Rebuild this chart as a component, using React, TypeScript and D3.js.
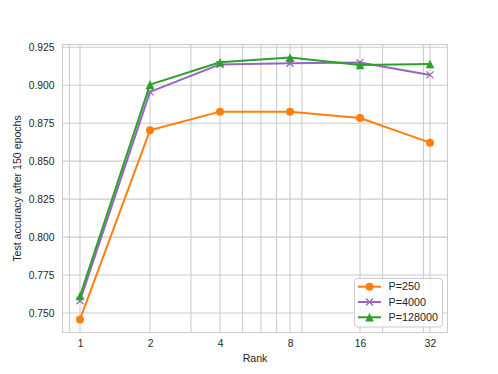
import React, { useEffect, useRef } from "react";
import * as d3 from "d3";

// ranks on a log2 axis
const ranks = [1, 2, 4, 8, 16, 32];
const accP250 = [0.7458, 0.8703, 0.8826, 0.8825, 0.8784, 0.8622];
const accP4000 = [0.7581, 0.8956, 0.9137, 0.9145, 0.9149, 0.9068];
const accP128000 = [0.7612, 0.9004, 0.9151, 0.9182, 0.9133, 0.914];
const yTicks = [0.75, 0.775, 0.8, 0.825, 0.85, 0.875, 0.9, 0.925];
// minor log gridlines matplotlib draws (base 10 subs)
const minorGrid = [0.9, 3, 5, 6, 7, 9, 20, 30];

const seriesList = [
  { name: "P=250", values: accP250, color: "#ff7f0e", marker: "circle" },
  { name: "P=4000", values: accP4000, color: "#9467bd", marker: "x" },
  { name: "P=128000", values: accP128000, color: "#2ca02c", marker: "triangle" },
];

const W = 498;
const H = 374;
const margin = { top: 44.5, right: 50.5, bottom: 41.5, left: 62.5 };

const App = () => {
  const ref = useRef<SVGSVGElement>(null);

  useEffect(() => {
    const svg = d3.select(ref.current);
    svg.selectAll("*").remove();

    const font = "'Liberation Sans', Arial, sans-serif";
    const x = d3
      .scaleLog()
      .base(2)
      .domain([Math.pow(2, -0.25), Math.pow(2, 5.25)])
      .range([margin.left, W - margin.right]);
    const allVals = seriesList.flatMap((s) => s.values);
    const lo = d3.min(allVals) as number;
    const hi = d3.max(allVals) as number;
    const pad = (hi - lo) * 0.05;
    const y = d3
      .scaleLinear()
      .domain([lo - pad, hi + pad])
      .range([H - margin.bottom, margin.top]);

    const grid = svg.append("g").attr("stroke", "#cccccc").attr("stroke-width", 1.1);
    [...ranks, ...minorGrid].forEach((v) => {
      grid
        .append("line")
        .attr("x1", x(v))
        .attr("x2", x(v))
        .attr("y1", margin.top)
        .attr("y2", H - margin.bottom);
    });
    yTicks.forEach((v) => {
      grid
        .append("line")
        .attr("x1", margin.left)
        .attr("x2", W - margin.right)
        .attr("y1", y(v))
        .attr("y2", y(v));
    });

    svg
      .append("rect")
      .attr("x", margin.left)
      .attr("y", margin.top)
      .attr("width", W - margin.left - margin.right)
      .attr("height", H - margin.top - margin.bottom)
      .attr("fill", "none")
      .attr("stroke", "#cccccc")
      .attr("stroke-width", 1.1);

    // tick labels
    const xAxis = d3
      .axisBottom(x)
      .tickValues(ranks)
      .tickFormat((d) => String(d))
      .tickSize(0)
      .tickPadding(7);
    const gx = svg
      .append("g")
      .attr("transform", `translate(0,${H - margin.bottom})`)
      .call(xAxis);
    gx.select(".domain").remove();
    gx.selectAll("text").attr("font-family", font).attr("font-size", 10.3).attr("fill", "#262626");

    const yAxis = d3
      .axisLeft(y)
      .tickValues(yTicks)
      .tickFormat(d3.format(".3f"))
      .tickSize(0)
      .tickPadding(8);
    const gy = svg.append("g").attr("transform", `translate(${margin.left},0)`).call(yAxis);
    gy.select(".domain").remove();
    gy.selectAll("text").attr("font-family", font).attr("font-size", 10.3).attr("fill", "#262626");

    svg
      .append("text")
      .attr("x", (margin.left + W - margin.right) / 2)
      .attr("y", 362)
      .attr("text-anchor", "middle")
      .attr("font-family", font)
      .attr("font-size", 10.6)
      .attr("fill", "#262626")
      .text("Rank");

    svg
      .append("text")
      .attr("transform", `translate(21,${(margin.top + H - margin.bottom) / 2}) rotate(-90)`)
      .attr("text-anchor", "middle")
      .attr("font-family", font)
      .attr("font-size", 10.6)
      .attr("fill", "#262626")
      .text("Test accuracy after 150 epochs");

    const line = d3
      .line<number>()
      .x((d, i) => x(ranks[i]))
      .y((d) => y(d));

    const drawMarker = (g: any, kind: string, cx: number, cy: number, color: string) => {
      if (kind === "circle") {
        g.append("circle").attr("cx", cx).attr("cy", cy).attr("r", 4).attr("fill", color);
      } else if (kind === "x") {
        const s = 3.5;
        g.append("path")
          .attr("d", `M${cx - s},${cy - s}L${cx + s},${cy + s}M${cx - s},${cy + s}L${cx + s},${cy - s}`)
          .attr("stroke", color)
          .attr("stroke-width", 1.3)
          .attr("fill", "none");
      } else {
        const s = 4.3;
        g.append("path")
          .attr("d", `M${cx},${cy - s}L${cx + s},${cy + s}L${cx - s},${cy + s}Z`)
          .attr("fill", color);
      }
    };

    seriesList.forEach((s) => {
      const g = svg.append("g");
      g.append("path")
        .attr("d", line(s.values))
        .attr("fill", "none")
        .attr("stroke", s.color)
        .attr("stroke-width", 2)
        .attr("stroke-linejoin", "round")
        .attr("stroke-linecap", "round");
      s.values.forEach((v, i) => drawMarker(g, s.marker, x(ranks[i]), y(v), s.color));
    });

    // legend
    const lg = svg.append("g");
    lg.append("rect")
      .attr("x", 354.5)
      .attr("y", 278.5)
      .attr("width", 88)
      .attr("height", 48.5)
      .attr("rx", 3)
      .attr("fill", "white")
      .attr("fill-opacity", 0.8)
      .attr("stroke", "#cccccc")
      .attr("stroke-width", 1);
    seriesList.forEach((s, i) => {
      const ly = 286.7 + i * 15.3;
      lg.append("line")
        .attr("x1", 358)
        .attr("x2", 381)
        .attr("y1", ly)
        .attr("y2", ly)
        .attr("stroke", s.color)
        .attr("stroke-width", 2);
      drawMarker(lg, s.marker, 369.5, ly, s.color);
      lg.append("text")
        .attr("x", 388.5)
        .attr("y", ly)
        .attr("dy", "0.35em")
        .attr("font-family", font)
        .attr("font-size", 10.8)
        .attr("fill", "#262626")
        .text(s.name);
    });
  }, []);

  return <svg ref={ref} width={W} height={H} style={{ position: "absolute", left: 0, top: 0 }} />;
};

export default App;
